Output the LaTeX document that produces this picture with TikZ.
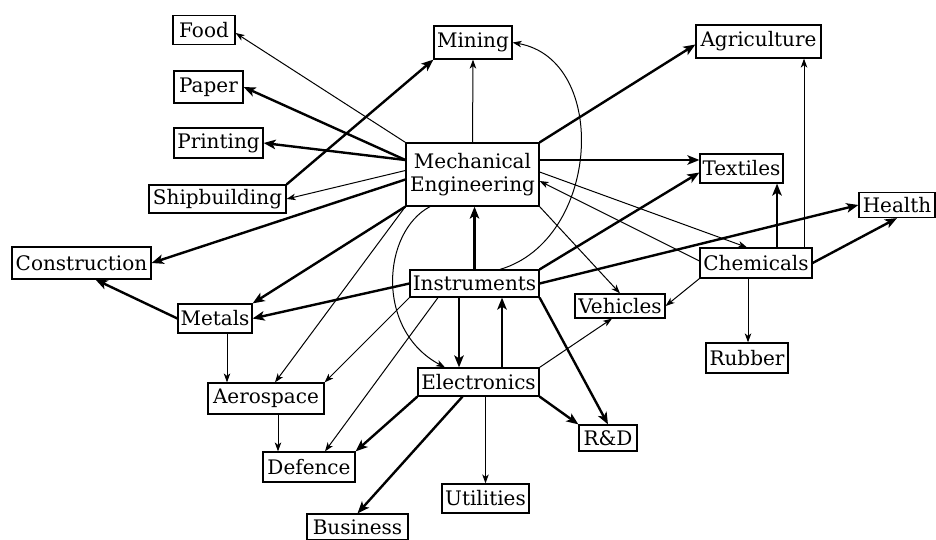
\documentclass[tikz,border=0pt]{standalone}
\usepackage{fontspec}
\setmainfont{DejaVu Serif}
\usetikzlibrary{arrows.meta}
\tikzset{
  box/.style={draw, line width=1.2pt, inner sep=0pt, align=center,
    font=\fontsize{20}{22.5}\selectfont},
  thinarr/.style={line width=1pt, -{Stealth[length=9pt,width=6.5pt,inset=2.5pt]}},
  thickarr/.style={line width=2.4pt, -{Stealth[length=12pt,width=9.5pt,inset=3pt]}},
}
\begin{document}
\begin{tikzpicture}[x=1pt,y=-1pt]
\useasboundingbox (0,0) rectangle (936,540);
% nodes
\node[box, minimum width=62pt, minimum height=29pt] (food) at (204,30) {Food};
\node[box, minimum width=69pt, minimum height=32pt] (paper) at (208.5,87) {Paper};
\node[box, minimum width=89pt, minimum height=30pt] (printing) at (218.5,143) {Printing};
\node[box, minimum width=137pt, minimum height=28pt] (ship) at (217.5,199) {Shipbuilding};
\node[box, minimum width=78pt, minimum height=33pt] (mining) at (473,42.5) {Mining};
\node[box, minimum width=133pt, minimum height=63pt] (me) at (472.5,174.5) {Mechanical\\Engineering};
\node[box, minimum width=125pt, minimum height=33pt] (agri) at (758.5,41.5) {Agriculture};
\node[box, minimum width=83pt, minimum height=29pt] (textiles) at (741.5,168.5) {Textiles};
\node[box, minimum width=76pt, minimum height=25pt] (health) at (897,205) {Health};
\node[box, minimum width=139pt, minimum height=32pt] (constr) at (81.5,263) {Construction};
\node[box, minimum width=74pt, minimum height=29pt] (metals) at (215,318.5) {Metals};
\node[box, minimum width=116pt, minimum height=31pt] (aero) at (266,398.5) {Aerospace};
\node[box, minimum width=92pt, minimum height=30pt] (defence) at (309,467) {Defence};
\node[box, minimum width=101pt, minimum height=26pt] (business) at (357.5,527) {Business};
\node[box, minimum width=129pt, minimum height=27pt] (instr) at (474.5,283.5) {Instruments};
\node[box, minimum width=121pt, minimum height=28pt] (elec) at (478.5,382) {Electronics};
\node[box, minimum width=90pt, minimum height=24pt] (vehicles) at (620,306) {Vehicles};
\node[box, minimum width=112pt, minimum height=30pt] (chem) at (756,263) {Chemicals};
\node[box, minimum width=82pt, minimum height=30pt] (rubber) at (747,358) {Rubber};
\node[box, minimum width=58pt, minimum height=26pt] (rd) at (608,438) {R\&D};
\node[box, minimum width=87pt, minimum height=29pt] (util) at (485.5,498.5) {Utilities};
% connectors
\draw[thinarr] (me.north west) -- ([yshift=-3pt]food.east);
\draw[thickarr] ([yshift=14.5pt]me.west) -- (paper.east);
\draw[thickarr] ([yshift=14.5pt]me.west) -- (printing.east);
\draw[thinarr] ([yshift=4pt]me.west) -- (ship.east);
\draw[thickarr] (ship.north east) -- (mining.south west);
\draw[thinarr] (me.north) -- (mining.south);
\draw[thickarr] ([yshift=-5pt]me.west) -- (constr.east);
\draw[thickarr] (me.south west) -- (metals.north east);
\draw[thickarr] (instr.west) -- (metals.east);
\draw[thickarr] (metals.west) -- ([xshift=14pt]constr.south);
\draw[thinarr] ([xshift=12pt]metals.south) -- ([xshift=12pt]metals.south |- aero.north);
\draw[thinarr] (me.south west) -- ([xshift=9pt]aero.north);
\draw[thinarr] (instr.south west) -- (aero.north east);
\draw[thinarr] ([xshift=-36.5pt]instr.south) -- ([xshift=16pt]defence.north);
\draw[thinarr] ([xshift=12pt]aero.south) -- ([xshift=12pt]aero.south |- defence.north);
\draw[thickarr] (elec.south west) -- (defence.north east);
\draw[thickarr] ([xshift=-16pt]elec.south) -- (business.north);
\draw[thinarr] (elec.south -| util.north) -- (util.north);
\draw[thickarr] (elec.south east) -- (rd.north west);
\draw[thickarr] (instr.south east) -- (rd.north);
\draw[thickarr] ([xshift=-15.5pt]instr.south) -- ([xshift=-15.5pt]instr.south |- elec.north);
\draw[thickarr] ([xshift=27.5pt]instr.south |- elec.north) -- ([xshift=27.5pt]instr.south);
\draw[thickarr] (instr.north) -- (instr.north |- me.south);
\draw[thinarr] ([xshift=-42.5pt]me.south) .. controls (382,232) and (375,330) .. ([xshift=-33.5pt]elec.north);
\draw[thinarr] ([xshift=25.5pt]instr.north) .. controls (600,240) and (610,60) .. (mining.east);
\draw[thickarr] (instr.north east) -- ([yshift=-4pt]textiles.west);
\draw[thickarr] (instr.east) -- (health.west);
\draw[thickarr] (me.north east) -- ([yshift=-3pt]agri.west);
\draw[thickarr] ([yshift=8.5pt]textiles.west -| me.east) -- ([yshift=8.5pt]textiles.west);
\draw[thinarr] ([yshift=2.5pt]me.east) -- ([xshift=-9pt]chem.north);
\draw[thinarr] ([yshift=2pt]chem.west) -- ([yshift=-6.5pt]me.east);
\draw[thickarr] ([xshift=21pt]chem.north) -- ([xshift=21pt]chem.north |- textiles.south);
\draw[thinarr] ([xshift=48pt]chem.north) -- ([xshift=48pt]chem.north |- agri.south);
\draw[thickarr] (chem.east) -- (health.south);
\draw[thinarr] ([xshift=-8pt]chem.south) -- ([xshift=-8pt]chem.south |- rubber.north);
\draw[thinarr] (chem.south west) -- (vehicles.east);
\draw[thinarr] (me.south east) -- (vehicles.north);
\draw[thinarr] (elec.north east) -- ([xshift=-8pt]vehicles.south);
\end{tikzpicture}
\end{document}
